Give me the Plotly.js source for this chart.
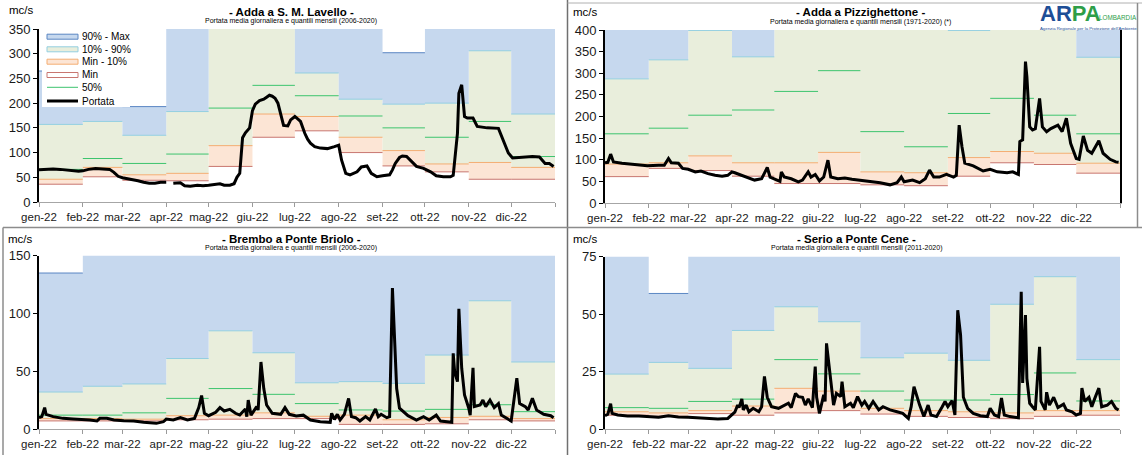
<!DOCTYPE html>
<html>
<head>
<meta charset="utf-8">
<script src="https://cdn.plot.ly/plotly-3.0.1.min.js"></script>
<style>
  html, body { margin: 0; padding: 0; background: #ffffff; }
  #chart { width: 1142px; height: 455px; }
</style>
</head>
<body>
<div id="chart"></div>
<script>
// ---------------- DATA ----------------
const MONTH_STARTS = ['2022-01-01','2022-02-01','2022-03-01','2022-04-01','2022-05-01','2022-06-01',
                      '2022-07-01','2022-08-01','2022-09-01','2022-10-01','2022-11-01','2022-12-01'];
const YEAR_END = '2023-01-01';
const MONTH_LABELS = ['gen-22','feb-22','mar-22','apr-22','mag-22','giu-22',
                      'lug-22','ago-22','set-22','ott-22','nov-22','dic-22'];

// Adda a S. M. Lavello - monthly quantiles
const lavMin = [36, 51, 44, 43, 72, 131, 144, 100, 73, 61, 46, 46];
const lavP10 = [46, 70, 55, 58, 114, 178, 173, 131, 104, 77, 80, 70];
const lavP50 = [66, 88, 78, 97, 190, 236, 215, 174, 150, 131, 163, 92];
const lavP90 = [157, 163, 135, 183, 360, 360, 261, 208, 198, 200, 306, 178];
const lavMax = [265, 280, 193, 380, 380, 380, 380, 380, 302, 380, 380, 380];
// daily flow (day of year, value)
const lavDays = [0,5,10,15,20,25,28,31,35,40,45,50,53,56,59,63,66,70,74,78,82,86,90,92,95,98,100,103,107,112,
  116,120,125,128,131,135,138,140,142,143,144,146,149,151,153,156,159,161,163,165,167,169,171,173,176,178,181,183,185,188,
  190,192,195,199,204,209,212,214,217,220,225,228,232,235,239,243,248,250,252,255,257,260,264,267,272,277,281,286,291,293,
  296,297,299,300,301,303,307,310,317,325,328,332,335,342,349,354,358,361,364];
const lavFlow = [65,66,67,66,65,64,62,63,66,68,67,66,60,52,49,47,46,43,40,38,38,40,40,null,38,38,39,33,32,34,
  33,34,35,37,34,34,37,50,58,100,130,140,150,185,198,205,208,212,216,214,210,200,180,155,154,166,173,168,163,139,
  127,119,112,109,108,112,115,85,58,55,61,71,73,58,51,53,55,65,78,90,93,92,80,72,68,61,53,51,51,54,
  139,220,237,207,173,170,170,153,150,149,126,99,89,90,92,91,78,78,72];

// Adda a Pizzighettone
const pizMin = [61, 80, 75, 62, 45, 45, 42, 40, 62, 93, 89, 69];
const pizP10 = [90, 93, 109, 93, 93, 117, 72, 70, 105, 119, 115, 92];
const pizP50 = [160, 173, 203, 215, 258, 306, 165, 130, 207, 242, 203, 160];
const pizP90 = [287, 331, 399, 338, 430, 430, 430, 430, 399, 430, 430, 337];
const pizMax = [450, 450, 450, 450, 450, 450, 450, 450, 450, 450, 450, 450];
const pizDays = [0,2,4,6,12,19,26,30,38,42,45,47,52,55,59,64,68,73,78,83,87,90,92,97,101,106,111,115,117,120,
  124,125,127,132,137,140,144,146,149,152,155,158,160,165,170,175,181,188,195,202,207,210,212,218,223,227,230,233,237,242,
  247,249,251,253,255,261,268,273,278,285,289,293,294,296,298,299,301,303,305,308,310,313,316,321,324,327,330,334,336,339,
  342,345,350,353,358,362,364];
const pizFlow = [93,94,113,95,92,90,87,86,87,87,103,93,92,80,78,72,74,68,64,62,64,72,70,64,60,53,56,82,60,56,
  50,72,60,56,49,53,72,60,66,51,60,99,60,56,58,55,53,49,47,42,47,60,49,53,47,56,76,60,60,66,
  60,64,180,130,92,86,74,78,72,70,72,66,142,146,327,292,176,169,172,242,176,165,172,180,165,196,138,103,101,155,
  122,115,144,115,101,95,94];

// Brembo a Ponte Briolo
const breMin = [7, 7, 7, 8, 8.5, 9, 9, 4, 4, 4.5, 8, 7];
const breP10 = [9, 9, 8.5, 11.5, 12, 14, 11, 12, 8, 10, 11, 9];
const breP50 = [12, 12, 14, 26.5, 35, 30, 22, 16.5, 15.5, 17, 21, 15];
const breP90 = [32, 37, 39, 61, 85, 66, 40, 41, 39.5, 64, 111, 58];
const breMax = [135, 170, 170, 170, 170, 170, 170, 170, 170, 170, 170, 170];
const breDays = [0,2,4,5,10,17,24,31,36,41,43,48,53,60,67,74,83,88,90,95,100,105,110,113,115,117,120,125,128,131,
  135,139,142,146,147,148,150,154,155,157,159,161,165,171,174,177,182,187,192,199,206,207,209,211,213,216,219,221,224,227,
  231,234,238,240,242,246,248,250,251,252,253,255,261,267,272,276,281,284,288,292,293,294,296,297,299,301,304,305,307,308,
  312,314,316,319,322,325,327,331,334,338,340,344,346,349,352,357,362,364];
const breFlow = [10,10.7,18.5,12.7,10.7,9.2,8.6,8.3,7.8,6.9,9.2,9.2,7.8,7.2,6.9,5.8,4.9,6.3,8.6,7.8,9.8,7.8,9.2,18.5,29,13.6,11.5,14.4,18.5,15.6,
  17,13.6,12.1,17.3,10.7,25,12,19.4,16.4,58,35,20.8,13.6,12.7,18.5,12.7,11.2,12,7.8,6.3,5.8,13.6,8.3,12.7,7.8,12.7,26.5,10.7,9.8,6.9,
  10.7,7.8,17.3,10.7,12.7,9.8,10.7,122,95,55,35,18,11.5,7.8,10.7,7.8,12,6.9,6.3,5.8,65.5,49.6,41,104,52.6,29.4,18,12,53,19.4,
  20.8,25,19.4,25,18.5,22,12,9.2,6.9,44,22,19.4,16.4,26.5,16.4,12.7,11.5,9.8];

// Serio a Ponte Cene
const cenMin = [6, 5.5, 6.7, 6, 7, 8, 6.5, 5.5, 5, 4.5, 5.5, 6];
const cenP10 = [7.5, 7, 8, 10, 17.7, 16.5, 9, 8, 7.5, 7, 8, 8];
const cenP50 = [9.3, 9, 12, 13, 30.2, 24, 16.5, 12.6, 12.6, 15, 24.4, 12.2];
const cenP90 = [23.9, 29, 26.4, 42.9, 53.2, 46.7, 31, 33, 29.9, 54.3, 66.3, 30.2];
const cenMax = [90, 59, 90, 90, 90, 90, 90, 90, 90, 90, 90, 90];
const cenDays = [0,2,4,5,9,16,24,31,38,45,52,59,66,73,80,87,90,92,94,95,97,98,100,102,105,109,111,113,115,118,
  123,128,130,132,135,137,140,142,144,147,149,150,152,155,156,157,160,162,164,167,168,170,174,176,179,182,184,187,190,194,
  197,202,207,211,215,217,219,221,223,226,229,231,235,239,241,243,246,248,250,252,254,257,261,266,271,273,276,279,281,283,
  287,293,295,296,298,299,301,303,305,308,309,312,313,315,318,321,325,327,331,334,337,338,340,343,345,347,350,352,356,359,
  362,364];
const cenFlow = [5.8,6.4,11,6.8,6.1,5.7,5.7,5.4,5.1,5.8,5.2,5.1,4.9,4.6,4.3,4.6,6.1,7.3,10.4,9.3,13.1,8.3,10.4,7.5,9,7.5,9.7,22.9,13.8,9.7,
  9,10.4,11.2,9.3,15.5,14.1,13.8,10.4,13.1,9.3,27.2,13.8,6.8,14.9,12,37.3,20.6,10.4,15.5,14.1,20.6,9.7,11.2,9.3,14.1,10.4,12,9,12,8.3,
  9.7,8.3,7.5,6.8,4.6,9.7,18.4,13.8,10.4,5.4,10.4,6.1,5.4,9.7,12,9.7,12.3,6.1,51.7,41,13.8,9,6.8,5.8,5.4,9,6.1,5.4,13.5,6.1,
  5.4,4.9,59.7,20,49.6,22,11.2,9.7,8.3,35.8,12,8.3,16,10.4,13.8,9.3,10.8,8.3,7.5,6.1,6.8,17.8,12,13.8,9.7,13.1,17.8,9.7,10.4,12,
  9,8.3];

const legendLabels = ['90% - Max', '10% - 90%', 'Min - 10%', 'Min', '50%', 'Portata'];

// ---------------- STYLE ----------------
const W = 1142, H = 455;
const FONT = 'Liberation Sans, Arial, sans-serif';
const C = {
  blueFill: '#c6d8ee', blue: '#5a86c3',
  greenFill: '#e9eedc', teal: '#93cfe0',
  orangeFill: '#fce5d5', orange: '#f4ad72',
  min: '#c87670', median: '#3dc46e', flow: '#000000'
};
const fx = x => x / W;
const fy = y => 1 - y / H;

function dayToDate(d) {
  return new Date(Date.UTC(2022, 0, 1) + d * 86400000).toISOString().slice(0, 10);
}

const panels = [
  { ax: '', xd: [39, 555], yd: [29, 202], ymax: 350, ytick: [0,50,100,150,200,250,300,350],
    bands: [lavMin, lavP10, lavP50, lavP90, lavMax], days: lavDays, flow: lavFlow,
    title: '- Adda a S. M. Lavello -', sub: 'Portata media giornaliera e quantili mensili (2006-2020)',
    tx: 291, ty: 12, sy: 21, mcx: 21, mcy: 10 },
  { ax: '2', xd: [605, 1120], yd: [30, 203], ymax: 400, ytick: [0,50,100,150,200,250,300,350,400],
    bands: [pizMin, pizP10, pizP50, pizP90, pizMax], days: pizDays, flow: pizFlow,
    title: '- Adda a Pizzighettone -', sub: 'Portata media giornaliera e quantili mensili (1971-2020) (*)',
    tx: 860, ty: 12, sy: 22, mcx: 585, mcy: 12 },
  { ax: '3', xd: [39, 555], yd: [255.7, 429], ymax: 150, ytick: [0,50,100,150],
    bands: [breMin, breP10, breP50, breP90, breMax], days: breDays, flow: breFlow,
    title: '- Brembo a Ponte Briolo -', sub: 'Portata media giornaliera e quantili mensili (2006-2020)',
    tx: 291, ty: 239, sy: 248, mcx: 20, mcy: 239 },
  { ax: '4', xd: [605, 1120], yd: [256.7, 429], ymax: 75, ytick: [0,25,50,75],
    bands: [cenMin, cenP10, cenP50, cenP90, cenMax], days: cenDays, flow: cenFlow,
    title: '- Serio a Ponte Cene -', sub: 'Portata media giornaliera e quantili mensili (2011-2020)',
    tx: 856, ty: 239, sy: 248, mcx: 585, mcy: 239 }
];

const traces = [];
const layout = {
  width: W, height: H, autosize: false,
  margin: { l: 0, r: 0, t: 0, b: 0 },
  paper_bgcolor: '#ffffff', plot_bgcolor: '#ffffff',
  showlegend: false, hovermode: false,
  font: { family: FONT, color: '#000' },
  annotations: [], shapes: []
};

const bandX = MONTH_STARTS.concat([YEAR_END]);
const ext = a => a.concat([a[a.length - 1]]);
// horizontal-only step segments (one per month, no verticals)
function segX() {
  const xs = [];
  for (let i = 0; i < 12; i++) xs.push(bandX[i], bandX[i + 1], bandX[i + 1]);
  return xs;
}
function segY(a) {
  const ys = [];
  for (let i = 0; i < 12; i++) ys.push(a[i], a[i], null);
  return ys;
}

panels.forEach(p => {
  const xa = 'x' + p.ax, ya = 'y' + p.ax;
  const base = { x: bandX, mode: 'lines', xaxis: xa, yaxis: ya, hoverinfo: 'skip', showlegend: false };
  const [mn, p10, p50, p90, mx] = p.bands;
  // fills
  traces.push(Object.assign({}, base, { y: ext(mn), line: { color: 'rgba(0,0,0,0)', width: 0, shape: 'hv' } }));
  traces.push(Object.assign({}, base, { y: ext(p10), fill: 'tonexty', fillcolor: C.orangeFill, line: { color: 'rgba(0,0,0,0)', width: 0, shape: 'hv' } }));
  traces.push(Object.assign({}, base, { y: ext(p90), fill: 'tonexty', fillcolor: C.greenFill, line: { color: 'rgba(0,0,0,0)', width: 0, shape: 'hv' } }));
  traces.push(Object.assign({}, base, { y: ext(mx), fill: 'tonexty', fillcolor: C.blueFill, line: { color: 'rgba(0,0,0,0)', width: 0, shape: 'hv' } }));
  // boundary lines
  const sx = segX();
  [[mn, C.min], [p10, C.orange], [p90, C.teal], [mx, C.blue], [p50, C.median]].forEach(([arr, col]) => {
    traces.push({ x: sx, y: segY(arr), mode: 'lines', xaxis: xa, yaxis: ya, connectgaps: false,
      hoverinfo: 'skip', showlegend: false, line: { color: col, width: 1 } });
  });
  // daily flow
  traces.push({ x: p.days.map(dayToDate), y: p.flow, mode: 'lines', xaxis: xa, yaxis: ya,
    connectgaps: false, hoverinfo: 'skip', showlegend: false,
    line: { color: C.flow, width: 3, shape: 'linear' } });

  layout['xaxis' + p.ax] = {
    type: 'date', domain: [fx(p.xd[0]), fx(p.xd[1])], anchor: ya,
    range: ['2022-01-01', YEAR_END], fixedrange: true,
    tickmode: 'array', tickvals: MONTH_STARTS.concat([YEAR_END]), ticktext: MONTH_LABELS.concat(['']),
    ticks: 'outside', ticklen: 4, tickcolor: '#9a9a9a', tickwidth: 1,
    showline: true, linecolor: '#a6a6a6', linewidth: 1,
    showgrid: false, zeroline: false,
    tickfont: { family: FONT, size: 11.5, color: '#1a1a1a' }
  };
  layout['yaxis' + p.ax] = {
    domain: [fy(p.yd[1]), fy(p.yd[0])], anchor: xa,
    range: [0, p.ymax], fixedrange: true,
    tickmode: 'array', tickvals: p.ytick,
    ticks: 'outside', ticklen: 4, tickcolor: '#000', tickwidth: 1,
    showline: true, linecolor: '#000', linewidth: 2, mirror: p.ax === '2',
    showgrid: false, zeroline: false,
    tickfont: { family: FONT, size: 13, color: '#1a1a1a' }
  };

  layout.annotations.push({ xref: 'paper', yref: 'paper', x: fx(p.tx), y: fy(p.ty), xanchor: 'center', yanchor: 'middle',
    text: '<b>' + p.title + '</b>', showarrow: false, font: { family: FONT, size: 11.5, color: '#000' } });
  layout.annotations.push({ xref: 'paper', yref: 'paper', x: fx(p.tx), y: fy(p.sy), xanchor: 'center', yanchor: 'middle',
    text: p.sub, showarrow: false, font: { family: FONT, size: 7, color: '#000' } });
  layout.annotations.push({ xref: 'paper', yref: 'paper', x: fx(p.mcx), y: fy(p.mcy), xanchor: 'center', yanchor: 'middle',
    text: 'mc/s', showarrow: false, font: { family: FONT, size: 11.5, color: '#000' } });
});

// panel frames
const frameLine = (x0, y0, x1, y1, c, w) => ({ type: 'line', xref: 'paper', yref: 'paper',
  x0: fx(x0), y0: fy(y0), x1: fx(x1), y1: fy(y1), line: { color: c, width: w } });
layout.shapes.push(frameLine(567.5, 0, 567.5, 455, '#707070', 1.5));
layout.shapes.push(frameLine(3, 227.5, 1142, 227.5, '#8c8c8c', 1.5));
layout.shapes.push(frameLine(567.5, 3, 1142, 3, '#b0b0b0', 1));
layout.shapes.push(frameLine(3, 227.5, 3, 455, '#8c8c8c', 1.5));
layout.shapes.push(frameLine(1137.5, 3, 1137.5, 227.5, '#8c8c8c', 1.5));

// manual legend (panel 1)
layout.shapes.push({ type: 'rect', xref: 'paper', yref: 'paper', x0: fx(42), x1: fx(130), y0: fy(107), y1: fy(29),
  fillcolor: '#ffffff', line: { width: 0 } });
const rows = [36.7, 49.3, 61.7, 75, 87.3, 101];
const swFill = [[C.blueFill, C.blue], [C.greenFill, C.teal], [C.orangeFill, C.orange], ['#ffffff', C.min]];
swFill.forEach((s, i) => {
  layout.shapes.push({ type: 'rect', xref: 'paper', yref: 'paper', x0: fx(47), x1: fx(78),
    y0: fy(rows[i] + 2.5), y1: fy(rows[i] - 2.5), fillcolor: s[0], line: { color: s[1], width: 1 } });
});
layout.shapes.push(frameLine(47, rows[4], 78, rows[4], C.median, 1));
layout.shapes.push(frameLine(47, rows[5], 78, rows[5], '#000', 3));
legendLabels.forEach((t, i) => {
  layout.annotations.push({ xref: 'paper', yref: 'paper', x: fx(80), y: fy(rows[i]), xanchor: 'left', yanchor: 'middle',
    text: t, showarrow: false, font: { family: FONT, size: 10, color: '#000' } });
});

// ARPA logo
layout.annotations.push({ xref: 'paper', yref: 'paper', x: fx(1070), y: fy(13), xanchor: 'center', yanchor: 'middle',
  text: '<b><span style="color:#1d4e96">AR</span><span style="color:#2e9e48">PA</span></b>', showarrow: false,
  font: { family: FONT, size: 22 } });
layout.annotations.push({ xref: 'paper', yref: 'paper', x: fx(1118), y: fy(18), xanchor: 'center', yanchor: 'middle',
  text: 'LOMBARDIA', showarrow: false, font: { family: FONT, size: 6.3, color: '#2e9e48' } });
layout.annotations.push({ xref: 'paper', yref: 'paper', x: fx(1088), y: fy(28.5), xanchor: 'center', yanchor: 'middle',
  text: "Agenzia Regionale per la Protezione dell'Ambiente", showarrow: false, font: { family: FONT, size: 4.3, color: '#1d4e96' } });

Plotly.newPlot('chart', traces, layout, { staticPlot: true, displayModeBar: false });
</script>
</body>
</html>
